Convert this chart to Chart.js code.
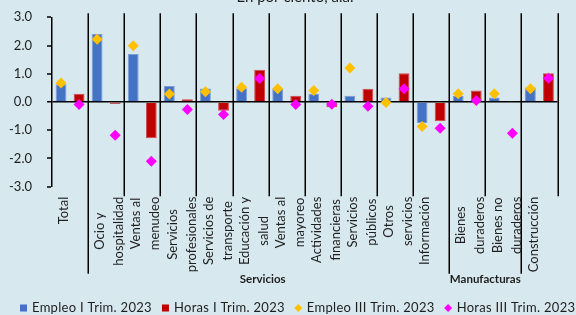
<!DOCTYPE html>
<html>
<head>
<meta charset="utf-8">
<script src="https://cdn.jsdelivr.net/npm/chart.js@4/dist/chart.umd.min.js"></script>
<style>
  html, body { margin: 0; padding: 0; background: #D7E8EF; }
  #wrap { width: 576px; height: 315px; position: relative; overflow: hidden; }
</style>
</head>
<body>
<div id="wrap"><canvas id="c" width="576" height="315"></canvas></div>
<script>
// ---- Data ----
const categories = [
  ["Total"], ["Ocio y", "hospitalidad"], ["Ventas al", "menudeo"], ["Servicios", "profesionales"],
  ["Servicios de", "transporte"], ["Educación y", "salud"], ["Ventas al", "mayoreo"],
  ["Actividades", "financieras"], ["Servicios", "públicos"], ["Otros", "servicios"],
  ["Información"], ["Bienes", "duraderos"], ["Bienes no", "duraderos"], ["Construcción"]
];
const groupNames = ["Servicios", "Manufacturas"];
const groupFrom = [1, 11];
const groupTo = [10, 12];
const seriesNames = ["Empleo I Trim. 2023", "Horas I Trim. 2023", "Empleo III Trim. 2023", "Horas III Trim. 2023"];
const empleoI   = [0.63, 2.42, 1.70, 0.57, 0.48, 0.49, 0.47, 0.29, 0.22, 0.16, -0.74, 0.21, 0.16, 0.51];
const horasI    = [0.29, -0.07, -1.28, 0.10, -0.31, 1.14, 0.22, -0.19, 0.47, 1.02, -0.68, 0.41, 0.02, 1.02];
const empleoIII = [0.67, 2.22, 1.99, 0.28, 0.36, 0.52, 0.47, 0.41, 1.20, -0.02, -0.87, 0.29, 0.29, 0.47];
const horasIII  = [-0.09, -1.18, -2.10, -0.27, -0.44, 0.83, -0.09, -0.08, -0.15, 0.47, -0.93, 0.05, -1.11, 0.84];
const yTicks = [-3, -2, -1, 0, 1, 2, 3];
const titleText = "En por ciento, a.a.";

// ---- Styles ----
const BG = '#D7E8EF';
const BLUE = '#4472C4', RED = '#C00000', ORANGE = '#FFC000', MAGENTA = '#FF00FF';
const BLUE_EDGE = '#7D9BD6', RED_EDGE = '#D24A4A';
const TXT = '#1e1e1e';
const FONT = 'Lato';
const SHIFT = 0.25; // left/right slot within each category (fraction of category width)

const decor = {
  id: 'decor',
  beforeDraw(chart) {
    const { ctx, width, height } = chart;
    ctx.save();
    ctx.fillStyle = BG;
    ctx.fillRect(0, 0, width, height);
    ctx.restore();
  },
  afterDraw(chart) {
    const { ctx, chartArea } = chart;
    const xs = chart.scales.x;
    const n = categories.length;
    const longB = new Set();
    groupFrom.forEach((f, g) => { longB.add(f); longB.add(groupTo[g] + 1); });

    ctx.save();
    // separators
    ctx.strokeStyle = '#000';
    ctx.lineWidth = 1.5;
    for (let k = 1; k <= n; k++) {
      const bx = Math.round(xs.getPixelForValue(k - 0.5)) + 0.25;
      ctx.beginPath();
      ctx.moveTo(bx, chartArea.top - 4);
      ctx.lineTo(bx, longB.has(k) ? chartArea.bottom + 87 : chartArea.bottom + 9.5);
      ctx.stroke();
    }

    // category labels (rotated)
    ctx.fillStyle = TXT;
    ctx.font = '13px ' + FONT;
    ctx.textAlign = 'center';
    ctx.textBaseline = 'middle';
    const topY = chartArea.bottom + 10;
    categories.forEach((lines, i) => {
      const cx = xs.getPixelForValue(i);
      const maxW = Math.max(...lines.map(l => ctx.measureText(l).width));
      const cy = topY + maxW / 2;
      lines.forEach((l, j) => {
        ctx.save();
        ctx.translate(cx - 6 + j * 19, cy);
        ctx.rotate(-Math.PI / 2);
        ctx.fillText(l, 0, 0);
        ctx.restore();
      });
    });

    // group labels
    ctx.font = 'bold 11.5px ' + FONT;
    groupNames.forEach((g, gi) => {
      const x0 = xs.getPixelForValue(groupFrom[gi] - 0.5);
      const x1 = xs.getPixelForValue(groupTo[gi] + 0.5);
      ctx.fillText(g, (x0 + x1) / 2 - (gi === 0 ? 6 : 0), chartArea.bottom + 93);
    });

    // title (partly cut at top)
    ctx.font = '15px ' + FONT;
    ctx.textBaseline = 'alphabetic';
    ctx.fillText(titleText, 295, 2);

    // legend
    ctx.font = '13px ' + FONT;
    ctx.textAlign = 'left';
    ctx.textBaseline = 'middle';
    try { ctx.letterSpacing = '0.3px'; } catch (e) {}
    const colors = [BLUE, RED, ORANGE, MAGENTA];
    const styles = ['rect', 'rect', 'diamond', 'diamond'];
    let lx = 20;
    const ly = 308;
    seriesNames.forEach((name, i) => {
      ctx.fillStyle = colors[i];
      if (styles[i] === 'rect') {
        ctx.fillRect(lx, ly - 3.5, 7, 7);
      } else {
        ctx.beginPath();
        ctx.moveTo(lx + 3.5, ly - 4);
        ctx.lineTo(lx + 7.5, ly);
        ctx.lineTo(lx + 3.5, ly + 4);
        ctx.lineTo(lx - 0.5, ly);
        ctx.closePath();
        ctx.fill();
      }
      ctx.fillStyle = TXT;
      ctx.fillText(name, lx + 12, ly);
      lx += 12 + ctx.measureText(name).width + 10;
    });
    ctx.restore();
  }
};

const atSlot = (vals, side) => vals.map((v, i) => ({ x: i + side * SHIFT, y: v }));

new Chart(document.getElementById('c'), {
  type: 'bar',
  data: {
    datasets: [
      { label: seriesNames[0], data: atSlot(empleoI, -1), backgroundColor: BLUE, borderColor: BLUE_EDGE,
        borderWidth: 1, order: 2, grouped: false, categoryPercentage: 1.0, barPercentage: 0.6 },
      { label: seriesNames[1], data: atSlot(horasI, 1), backgroundColor: RED, borderColor: RED_EDGE,
        borderWidth: 1, order: 2, grouped: false, categoryPercentage: 1.0, barPercentage: 0.6 },
      { type: 'scatter', label: seriesNames[2], order: 1,
        data: atSlot(empleoIII, -1),
        pointStyle: 'rectRot', pointRadius: 5.5, backgroundColor: ORANGE, borderColor: ORANGE, borderWidth: 0 },
      { type: 'scatter', label: seriesNames[3], order: 1,
        data: atSlot(horasIII, 1),
        pointStyle: 'rectRot', pointRadius: 5.5, backgroundColor: MAGENTA, borderColor: MAGENTA, borderWidth: 0 }
    ]
  },
  options: {
    responsive: false,
    devicePixelRatio: 1,
    animation: false,
    layout: { padding: { left: 0, right: 18.5, top: 17.3, bottom: 0 } },
    plugins: { legend: { display: false }, tooltip: { enabled: false }, title: { display: false } },
    scales: {
      x: {
        type: 'linear',
        offset: false,
        min: -0.5,
        max: 13.5,
        grid: { display: false },
        border: { display: false },
        ticks: { display: false },
        afterFit(s) { s.height = 315 - 186.7; }
      },
      y: {
        min: -3, max: 3,
        afterBuildTicks(s) { s.ticks = yTicks.map(v => ({ value: v })); },
        afterFit(s) { s.width = 52; s.paddingTop = 0; s.paddingBottom = 0; },
        ticks: {
          color: TXT,
          font: { family: FONT, size: 13 },
          padding: 15,
          callback: v => Number(v).toFixed(1)
        },
        grid: {
          drawOnChartArea: true,
          color: c => (c.tick && c.tick.value === 0) ? '#000' : 'rgba(0,0,0,0)',
          lineWidth: c => (c.tick && c.tick.value === 0) ? 1.5 : 0,
          tickColor: '#000',
          tickWidth: 1.5,
          tickLength: 5
        },
        border: { display: true, color: '#000', width: 1.5 }
      }
    }
  },
  plugins: [decor]
});
</script>
</body>
</html>
